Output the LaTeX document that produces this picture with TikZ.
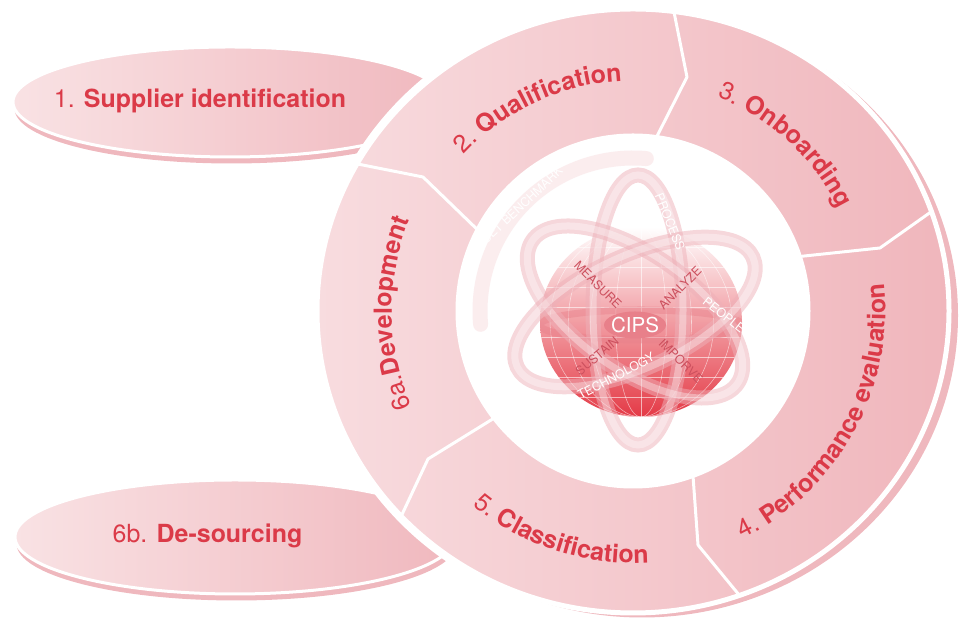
\documentclass[tikz,border=0pt]{standalone}
\usepackage{fontspec}
\setmainfont{TeX Gyre Heros}
\usepackage{xcolor}
\usepackage{tikz}
\usetikzlibrary{calc}
\usetikzlibrary{decorations.text}

\definecolor{txtred}{RGB}{219,58,72}
\definecolor{ringL}{RGB}{248,220,223}
\definecolor{ringR}{RGB}{240,182,188}
\definecolor{shadowpink}{RGB}{239,184,190}
\definecolor{ellL}{RGB}{249,226,228}
\definecolor{ellR}{RGB}{240,184,190}
\definecolor{globered}{RGB}{228,58,70}
\definecolor{globemid}{RGB}{242,158,166}
\definecolor{ribbonpink}{RGB}{238,176,184}
\definecolor{globetxt}{RGB}{204,80,94}
\definecolor{pill}{RGB}{232,128,138}
\definecolor{benchband}{RGB}{249,226,228}

\newcommand{\segfont}{\fontsize{14.2}{17}\selectfont}

\tikzset{
	seg label/.style={decorate,decoration={text along path,text align=center,text color=txtred}},
	big label/.style={font=\segfont,text=txtred,inner sep=0pt},
	globe label/.style={font=\fontsize{7}{8}\selectfont,text=globetxt,inner sep=0pt},
	ribbon label/.style={font=\fontsize{7}{8}\selectfont,text=white,inner sep=0pt},
	ribbon band/.style={draw=ribbonpink,line width=0.3cm,opacity=0.5},
	ribbon shine/.style={draw=white,line width=0.14cm,opacity=0.35},
	cut line/.style={white,line width=0.06cm,line join=round}
}

\begin{document}
\begin{tikzpicture}[transform shape,scale=1]
	\useasboundingbox (0,0) rectangle (19.22,12.54);
	\coordinate (C) at (12.66,6.32);
	\coordinate (G) at (12.82,6.10);

	\fill[shadowpink] (4.63,10.37) ellipse (4.34 and 1.10);
	\shadedraw[left color=ellL,right color=ellR,draw=white,line width=0.06cm] (4.60,10.50) ellipse (4.34 and 1.10);
	\fill[shadowpink] (4.73,1.67) ellipse (4.40 and 1.14);
	\shadedraw[left color=ellL,right color=ellR,draw=white,line width=0.06cm] (4.70,1.80) ellipse (4.40 and 1.14);
	\node[big label,anchor=base] (supplier) at (4.00,10.38) {1. \textbf{Supplier identification}};
	\node[big label,anchor=base] (desourcing) at (4.15,1.68) {6b. \textbf{De-sourcing}};

	\draw[white,line width=0.22cm] (C) ellipse (6.32 and 6.04);
	\fill[shadowpink] ($(C)+(0.18,-0.09)$) ellipse (6.32 and 6.04);
	\shadedraw[left color=ringL,right color=ringR,draw=white,line width=0.1cm] (C) ellipse (6.32 and 6.04);
	\fill[white] (C) circle (3.55);

	\begin{scope}
		\clip (C) ellipse (6.30 and 6.02);
		\draw[cut line] (13.44,12.5) -- (13.74,11.00) -- (12.98,9.5);
		\draw[cut line] (18.9,8.5) -- (17.60,7.58) -- (15.9,7.4);
		\draw[cut line] (13.84,3.3) -- (13.96,1.64) -- (14.98,0.4);
		\draw[cut line] (10.0,4.25) -- (8.56,3.36) -- (7.9,1.95);
		\draw[cut line] (6.85,9.32) -- (8.46,9.00) -- (9.7,7.8);
	\end{scope}

	\path[seg label,decoration={text={|\segfont\mdseries|2. |\segfont\bfseries|Qualification}}] ($(C)+(160:4.6)$) arc (160:70:4.6);
	\path[seg label,decoration={text={|\segfont\mdseries|3. |\segfont\bfseries|Onboarding}}] ($(C)+(95:4.6)$) arc (95:0:4.6);
	\path[seg label,decoration={text={|\segfont\mdseries|4. |\segfont\bfseries|Performance evaluation}}] ($(C)+(-80:5.05)$) arc (-80:22:5.05);
	\path[seg label,decoration={text={|\segfont\mdseries|5. |\segfont\bfseries|Classification}}] ($(C)+(200:5.04)$) arc (200:304:5.04);
	\path[seg label,decoration={text={|\segfont\mdseries|6a.|\segfont\bfseries|Development}}] ($(C)+(230:4.82)$) arc (230:131:4.82);

	\draw[benchband,line width=0.3cm,line cap=round,opacity=0.6] ($(C)+(85:3.06)$) arc (85:185:3.06);
	\node[ribbon label,rotate=43] (benchmark) at (10.44,8.44) {SET BENCHMARK};

	\shade[top color=white,middle color=globemid,bottom color=globered] (G) ellipse (2.02 and 1.9);
	\begin{scope}
		\clip (G) ellipse (2.02 and 1.9);
		\foreach \k in {0.25,0.5,0.72,0.9}
			\draw[white,opacity=0.6,line width=0.3pt] (G) ellipse ({2.02*\k} and 1.9);
		\draw[white,opacity=0.6,line width=0.3pt] ($(G)+(0,-1.9)$) -- ($(G)+(0,1.9)$);
		\foreach \h in {-1.5,-1.1,-0.7,-0.3,0.3,0.7,1.1,1.5}
			\draw[white,opacity=0.6,line width=0.3pt] ($(G)+(-2.1,\h)$) -- ($(G)+(2.1,\h)$);
		\draw[pill,opacity=0.45,line width=0.14cm] ($(G)+(0,-0.06)$) ellipse (2.02 and 0.3);
	\end{scope}

	\draw[ribbon band] (12.76,6.34) ellipse (0.9 and 2.7);
	\draw[ribbon shine] (12.76,6.34) ellipse (0.9 and 2.7);
	\draw[ribbon band,rotate around={-35:(12.70,6.30)}] (12.70,6.30) ellipse (2.5 and 1.16);
	\draw[ribbon shine,rotate around={-35:(12.70,6.30)}] (12.70,6.30) ellipse (2.5 and 1.16);
	\draw[ribbon band,rotate around={25:(12.70,6.30)}] (12.70,6.30) ellipse (2.6 and 1.12);
	\draw[ribbon shine,rotate around={25:(12.70,6.30)}] (12.70,6.30) ellipse (2.6 and 1.12);

	\fill[pill] (12.70,6.04) ellipse (0.62 and 0.27);
	\node[font=\fontsize{11.7}{13}\selectfont,text=white,inner sep=0pt] (cips) at (12.70,6.04) {CIPS};

	\node[globe label,rotate=-45] (measure) at (11.96,6.84) {MEASURE};
	\node[globe label,rotate=45] (analyze) at (13.60,6.78) {ANALYZE};
	\node[globe label,rotate=40] (sustain) at (11.94,5.42) {SUSTAIN};
	\node[globe label,rotate=-45] (imporve) at (13.62,5.32) {IMPORVE};
	\node[ribbon label,rotate=-38] (people) at (14.48,6.24) {PEOPLE};
	\node[ribbon label,rotate=28] (technology) at (12.32,5.02) {TECHNOLOGY};
	\node[ribbon label,rotate=-68] (process) at (13.40,8.10) {PROCESS};
\end{tikzpicture}
\end{document}
